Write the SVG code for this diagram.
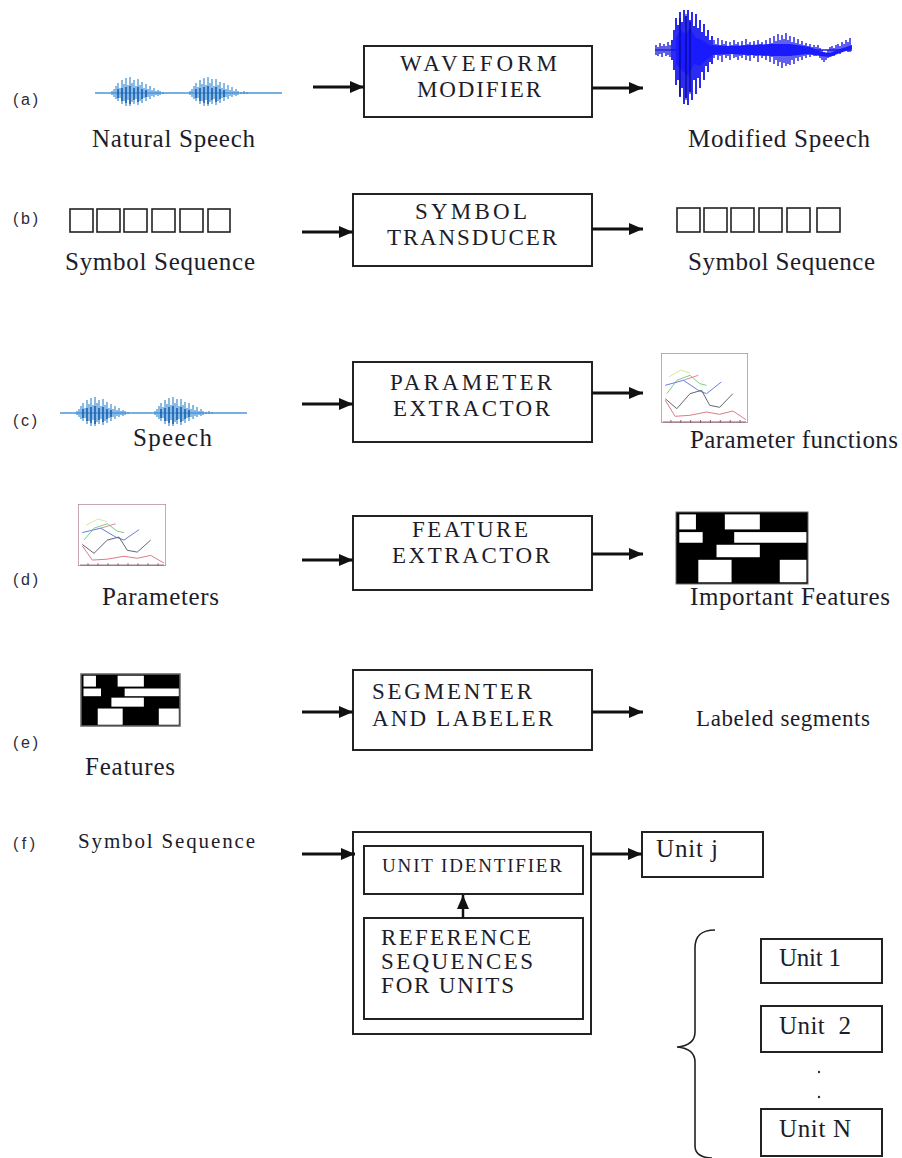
<svg xmlns="http://www.w3.org/2000/svg" xmlns:xlink="http://www.w3.org/1999/xlink" width="902" height="1158" viewBox="0 0 902 1158">
<style>
.t{font-family:"Liberation Serif","Times New Roman",serif;font-size:25px;fill:#1c1c2a}
.b{font-size:23px}
.s{font-family:"Liberation Sans",Arial,sans-serif;font-size:16px;fill:#2a2a3a}
.box{fill:#fff;stroke:#222;stroke-width:2}
.ar{stroke:#111;stroke-width:3;fill:none;marker-end:url(#ah)}
.sq{fill:none;stroke:#222;stroke-width:1.6}
.wl{stroke:#4a96d8;stroke-width:1.3;fill:none}
.wd{stroke:#1a5fb0;stroke-width:1.6;fill:none}
</style>
<defs>
<marker id="ah" markerUnits="userSpaceOnUse" markerWidth="14" markerHeight="12" refX="14" refY="6" orient="auto">
<path d="M0,0 L14,6 L0,12 z" fill="#111"/>
</marker>
<symbol id="feat" viewBox="0 0 100 100" preserveAspectRatio="none">
<rect x="0" y="0" width="100" height="100" fill="#000"/>
<g fill="#fff">
<rect x="2.5" y="3.3" width="12.6" height="20.9"/>
<rect x="37" y="3.3" width="26.5" height="20.9"/>
<rect x="2.5" y="27.9" width="17.7" height="14.8"/>
<rect x="44.1" y="27.9" width="54.7" height="14.8"/>
<rect x="30.7" y="45.5" width="32.8" height="17.3"/>
<rect x="16.9" y="66.4" width="25.2" height="31.2"/>
<rect x="78.6" y="66.4" width="20.2" height="31.2"/>
</g>
</symbol>
<symbol id="plot" viewBox="0 0 88 70" preserveAspectRatio="none">
<rect x="0" y="0" width="88" height="70" fill="#fff" stroke="#b58a98" stroke-width="1.5" vector-effect="non-scaling-stroke"/>
<path d="M2,69 H86 M10,67 V70 M20,67 V70 M30,67 V70 M40,67 V70 M50,67 V70 M60,67 V70 M70,67 V70 M80,67 V70" stroke="#8a6070" stroke-width="1" fill="none" vector-effect="non-scaling-stroke"/>
<g fill="none" stroke-width="1">
<polyline points="8,24 20,17 29,20" stroke="#d8e8a0" vector-effect="non-scaling-stroke"/>
<polyline points="6,40.7 16,27.3 29.3,22.3 39.3,30.7 46,32.3" stroke="#7ccf8a" vector-effect="non-scaling-stroke"/>
<polyline points="22.7,27.3 37.7,22.3" stroke="#e08a9a" vector-effect="non-scaling-stroke"/>
<polyline points="4.3,32.3 22.7,27.3 37.7,37.3 46,40.7 61,29" stroke="#6a7ed8" vector-effect="non-scaling-stroke"/>
<polyline points="4.3,45.7 16,55.7 29.3,40.7 41,37.3 49.3,52.3 59.3,54.3 72.7,40.7" stroke="#606870" vector-effect="non-scaling-stroke"/>
<polyline points="4.3,47.3 14.3,63.3 29.3,62.3 46,59 59.3,61.3 72.7,58 86,66.7" stroke="#e07a84" vector-effect="non-scaling-stroke"/>
</g>
</symbol>
<g id="natwave">
<path class="wl" d="M95,93 H282"/>
<path class="wl" d="M112,91V95 M114,89V97 M116,86V99 M118,83V101 M120,88V98 M122,80V104 M124,84V101 M126,78V106 M128,85V100 M130,77V106 M132,83V102 M134,80V104 M136,86V99 M138,79V105 M140,85V101 M142,82V103 M144,88V98 M146,84V101 M148,89V97 M150,86V99 M152,90V96 M154,88V97 M156,91V95 M158,90V96 M160,91V95 M163,92V94"/>
<path class="wd" d="M118,89V98 M122,88V101 M126,87V103 M130,86V104 M134,88V100 M138,87V102 M142,89V99 M146,90V97"/>
<path class="wl" d="M190,91V95 M192,89V97 M194,86V99 M196,83V101 M198,87V98 M200,80V104 M202,84V101 M204,78V106 M206,85V100 M208,77V106 M210,83V102 M212,79V104 M214,86V99 M216,79V105 M218,85V101 M220,82V103 M222,88V98 M224,83V101 M226,89V97 M228,85V99 M230,90V96 M232,87V97 M234,91V95 M236,89V96 M238,91V95 M241,92V94 M244,91V94 M247,92V94"/>
<path class="wd" d="M196,89V98 M200,88V101 M204,87V103 M208,86V104 M212,88V100 M216,87V102 M220,89V99 M224,90V97"/>
</g>
</defs>

<g id="row-a">
<text class="s" x="13" y="105" textLength="25">(a)</text>
<use xlink:href="#natwave"/>
<text class="t" x="92" y="147" textLength="163" lengthAdjust="spacing">Natural Speech</text>
<g id="waveform-modifier">
<rect class="box" x="364" y="46" width="228" height="71"/>
<text class="t b" x="400" y="71" textLength="157" lengthAdjust="spacing">WAVEFORM</text>
<text class="t b" x="417" y="97" textLength="124" lengthAdjust="spacing">MODIFIER</text>
</g>
<g id="modwave">
<path d="M655,50 H852" stroke="#2020e0" stroke-width="1.5" fill="none"/>
<path d="M656,45V55 M658,47V56 M660,43V54 M662,46V57 M664,44V53 M666,46V56 M668,42V55 M670,45V57" stroke="#2a2ad8" stroke-width="1.5" fill="none"/>
<path d="M672,40V60 M674,30V70 M676,18V85 M678,25V80 M680,12V97 M682,22V88 M684,10V104 M686,16V98 M688,10V105 M690,20V92 M692,12V100 M694,26V80 M696,14V94 M698,28V78 M700,20V88 M702,32V72 M704,24V80 M706,36V66 M708,30V72 M710,40V62 M712,36V64" stroke="#1414f0" stroke-width="1.8" fill="none"/>
<path d="M676,38 L680,30 L686,34 L690,28 L696,38 L702,40 L708,44 L712,46 L712,56 L706,60 L700,66 L694,64 L688,76 L682,70 L676,64 Z" fill="#1a1aff"/>
<path d="M686,14V100 M690,22V94 M680,18V96" stroke="#00007a" stroke-width="1" fill="none"/>
<path d="M714,40V58 M716,44V55 M718,38V60 M720,45V56 M722,40V62 M724,44V55 M726,41V58 M728,46V56 M730,42V60 M732,45V54 M734,40V58 M736,44V57 M738,42V60 M740,46V56 M742,41V58 M744,45V55 M746,39V60 M748,44V56 M750,42V61 M752,46V55 M754,41V58 M756,45V56 M758,40V62 M760,44V55 M762,42V58 M764,46V56 M766,40V60 M768,44V55 M770,38V62 M772,43V57 M774,36V64 M776,41V60 M778,34V66 M780,40V62 M782,35V68 M784,39V63 M786,33V66 M788,40V64 M790,36V65 M792,42V60 M794,37V64 M796,43V58 M798,39V61 M800,44V57 M802,41V60 M804,45V56 M806,43V58 M808,46V55 M810,44V57 M812,47V55 M814,45V56 M816,47V56 M818,45V55 M820,48V58 M822,50V60 M824,52V62 M826,53V60 M828,50V58 M830,47V55 M832,46V54 M834,48V56 M836,45V53 M838,44V52 M840,46V54 M842,42V52 M844,44V50 M846,40V50 M848,42V52 M850,38V52" stroke="#1c1ce8" stroke-width="1.4" fill="none"/>
<path d="M712,45 L730,46 L750,45 L770,44 L790,44 L810,47 L822,52 L830,53 L840,49 L852,45 L852,49 L840,53 L830,57 L820,56 L808,54 L790,56 L770,56 L750,55 L730,54 L712,55 Z" fill="#1a1aff"/>
</g>
<text class="t" x="688" y="147" textLength="182" lengthAdjust="spacing">Modified Speech</text>
</g>

<g id="row-b">
<text class="s" x="13" y="224" textLength="25">(b)</text>
<g id="sym-left">
<rect class="sq" x="70" y="209" width="23" height="23"/>
<rect class="sq" x="97" y="209" width="23" height="23"/>
<rect class="sq" x="124" y="209" width="23" height="23"/>
<rect class="sq" x="152" y="209" width="23" height="23"/>
<rect class="sq" x="180" y="209" width="23" height="23"/>
<rect class="sq" x="208" y="209" width="22" height="23"/>
</g>
<text class="t" x="65" y="270" textLength="190" lengthAdjust="spacing">Symbol Sequence</text>
<g id="symbol-transducer">
<rect class="box" x="353" y="194" width="239" height="72"/>
<text class="t b" x="415" y="219" textLength="112" lengthAdjust="spacing">SYMBOL</text>
<text class="t b" x="387" y="245" textLength="170" lengthAdjust="spacing">TRANSDUCER</text>
</g>
<g id="sym-right">
<rect class="sq" x="677" y="208" width="23" height="24"/>
<rect class="sq" x="704" y="208" width="23" height="24"/>
<rect class="sq" x="731" y="208" width="23" height="24"/>
<rect class="sq" x="759" y="208" width="23" height="24"/>
<rect class="sq" x="787" y="208" width="23" height="24"/>
<rect class="sq" x="817" y="208" width="23" height="24"/>
</g>
<text class="t" x="688" y="270" textLength="187" lengthAdjust="spacing">Symbol Sequence</text>
</g>

<g id="row-c">
<text class="s" x="13" y="426" textLength="24">(c)</text>
<use xlink:href="#natwave" transform="translate(-35,320)"/>
<text class="t" x="133" y="446" textLength="79" lengthAdjust="spacing">Speech</text>
<g id="parameter-extractor">
<rect class="box" x="353" y="362" width="239" height="80"/>
<text class="t b" x="390" y="390" textLength="162" lengthAdjust="spacing">PARAMETER</text>
<text class="t b" x="393" y="416" textLength="157" lengthAdjust="spacing">EXTRACTOR</text>
</g>
<use xlink:href="#plot" x="661" y="353" width="87" height="70"/>
<text class="t" x="690" y="448" textLength="208" lengthAdjust="spacing">Parameter functions</text>
</g>

<g id="row-d">
<text class="s" x="13" y="585" textLength="25">(d)</text>
<use xlink:href="#plot" x="78" y="504" width="88" height="62"/>
<text class="t" x="102" y="605" textLength="117" lengthAdjust="spacing">Parameters</text>
<g id="feature-extractor">
<rect class="box" x="353" y="516" width="239" height="74"/>
<text class="t b" x="412" y="537" textLength="116" lengthAdjust="spacing">FEATURE</text>
<text class="t b" x="392" y="563" textLength="158" lengthAdjust="spacing">EXTRACTOR</text>
</g>
<use xlink:href="#feat" x="676" y="512" width="132" height="72"/>
<rect x="676" y="512" width="132" height="72" fill="none" stroke="#666" stroke-width="1"/>
<text class="t" x="690" y="605" textLength="200" lengthAdjust="spacing">Important Features</text>
</g>

<g id="row-e">
<text class="s" x="13" y="748" textLength="25">(e)</text>
<use xlink:href="#feat" x="81" y="674" width="99" height="52"/>
<rect x="81" y="674" width="99" height="52" fill="none" stroke="#666" stroke-width="1.5"/>
<text class="t" x="85" y="775" textLength="90" lengthAdjust="spacing">Features</text>
<g id="segmenter-labeler">
<rect class="box" x="353" y="670" width="239" height="80"/>
<text class="t b" x="372" y="699" textLength="160" lengthAdjust="spacing">SEGMENTER</text>
<text class="t b" x="372" y="726" textLength="181" lengthAdjust="spacing">AND LABELER</text>
</g>
<text class="t" x="696" y="726" style="font-size:23px" textLength="174" lengthAdjust="spacing">Labeled segments</text>
</g>

<g id="row-f">
<text class="s" x="13" y="849" textLength="22">(f)</text>
<text class="t" x="78" y="848" style="font-size:21px" textLength="177" lengthAdjust="spacing">Symbol Sequence</text>
<g id="unit-system">
<rect class="box" x="353" y="832" width="238" height="202"/>
<g id="unit-identifier">
<rect class="box" x="364" y="846" width="219" height="48"/>
<text class="t" x="382" y="872" style="font-size:19px" textLength="180" lengthAdjust="spacing">UNIT IDENTIFIER</text>
</g>
<g id="reference-sequences">
<rect class="box" x="364" y="918" width="219" height="101"/>
<text class="t" x="381" y="945" style="font-size:23px" textLength="150" lengthAdjust="spacing">REFERENCE</text>
<text class="t" x="381" y="969" style="font-size:23px" textLength="152" lengthAdjust="spacing">SEQUENCES</text>
<text class="t" x="381" y="993" style="font-size:23px" textLength="133" lengthAdjust="spacing">FOR UNITS</text>
</g>
</g>
<g id="unit-j">
<rect class="box" x="642" y="832" width="121" height="45"/>
<text class="t" x="656" y="857" textLength="62" lengthAdjust="spacing">Unit j</text>
</g>
<path id="brace" d="M715,930 C702,930 695,935 695,948 V1032 C695,1042 688,1046 677,1047 C688,1048 695,1052 695,1062 V1146 C695,1154 702,1158 712,1158" fill="none" stroke="#222" stroke-width="1.6"/>
<g id="unit-1">
<rect class="box" x="761" y="939" width="121" height="44"/>
<text class="t" x="779" y="966" textLength="62" lengthAdjust="spacing">Unit 1</text>
</g>
<g id="unit-2">
<rect class="box" x="761" y="1006" width="121" height="46"/>
<text class="t" x="779" y="1034" textLength="72" lengthAdjust="spacing" xml:space="preserve">Unit  2</text>
</g>
<circle cx="819" cy="1072" r="1.2" fill="#333"/>
<circle cx="819" cy="1097" r="1.2" fill="#333"/>
<g id="unit-n">
<rect class="box" x="761" y="1109" width="121" height="47"/>
<text class="t" x="779" y="1137" textLength="72" lengthAdjust="spacing">Unit N</text>
</g>
</g>

<g id="connectors">
<path class="ar" d="M313,87 H364"/>
<path class="ar" d="M592,88 H643"/>
<path class="ar" d="M302,232 H353"/>
<path class="ar" d="M592,229 H643"/>
<path class="ar" d="M302,404 H353"/>
<path class="ar" d="M592,393 H643"/>
<path class="ar" d="M302,560 H353"/>
<path class="ar" d="M592,554 H643"/>
<path class="ar" d="M302,712 H353"/>
<path class="ar" d="M592,712 H643"/>
<path class="ar" d="M302,854 H355"/>
<path class="ar" d="M591,854 H642"/>
<path class="ar" d="M463,918 V895" style="stroke-width:2.5"/>
</g>
</svg>
